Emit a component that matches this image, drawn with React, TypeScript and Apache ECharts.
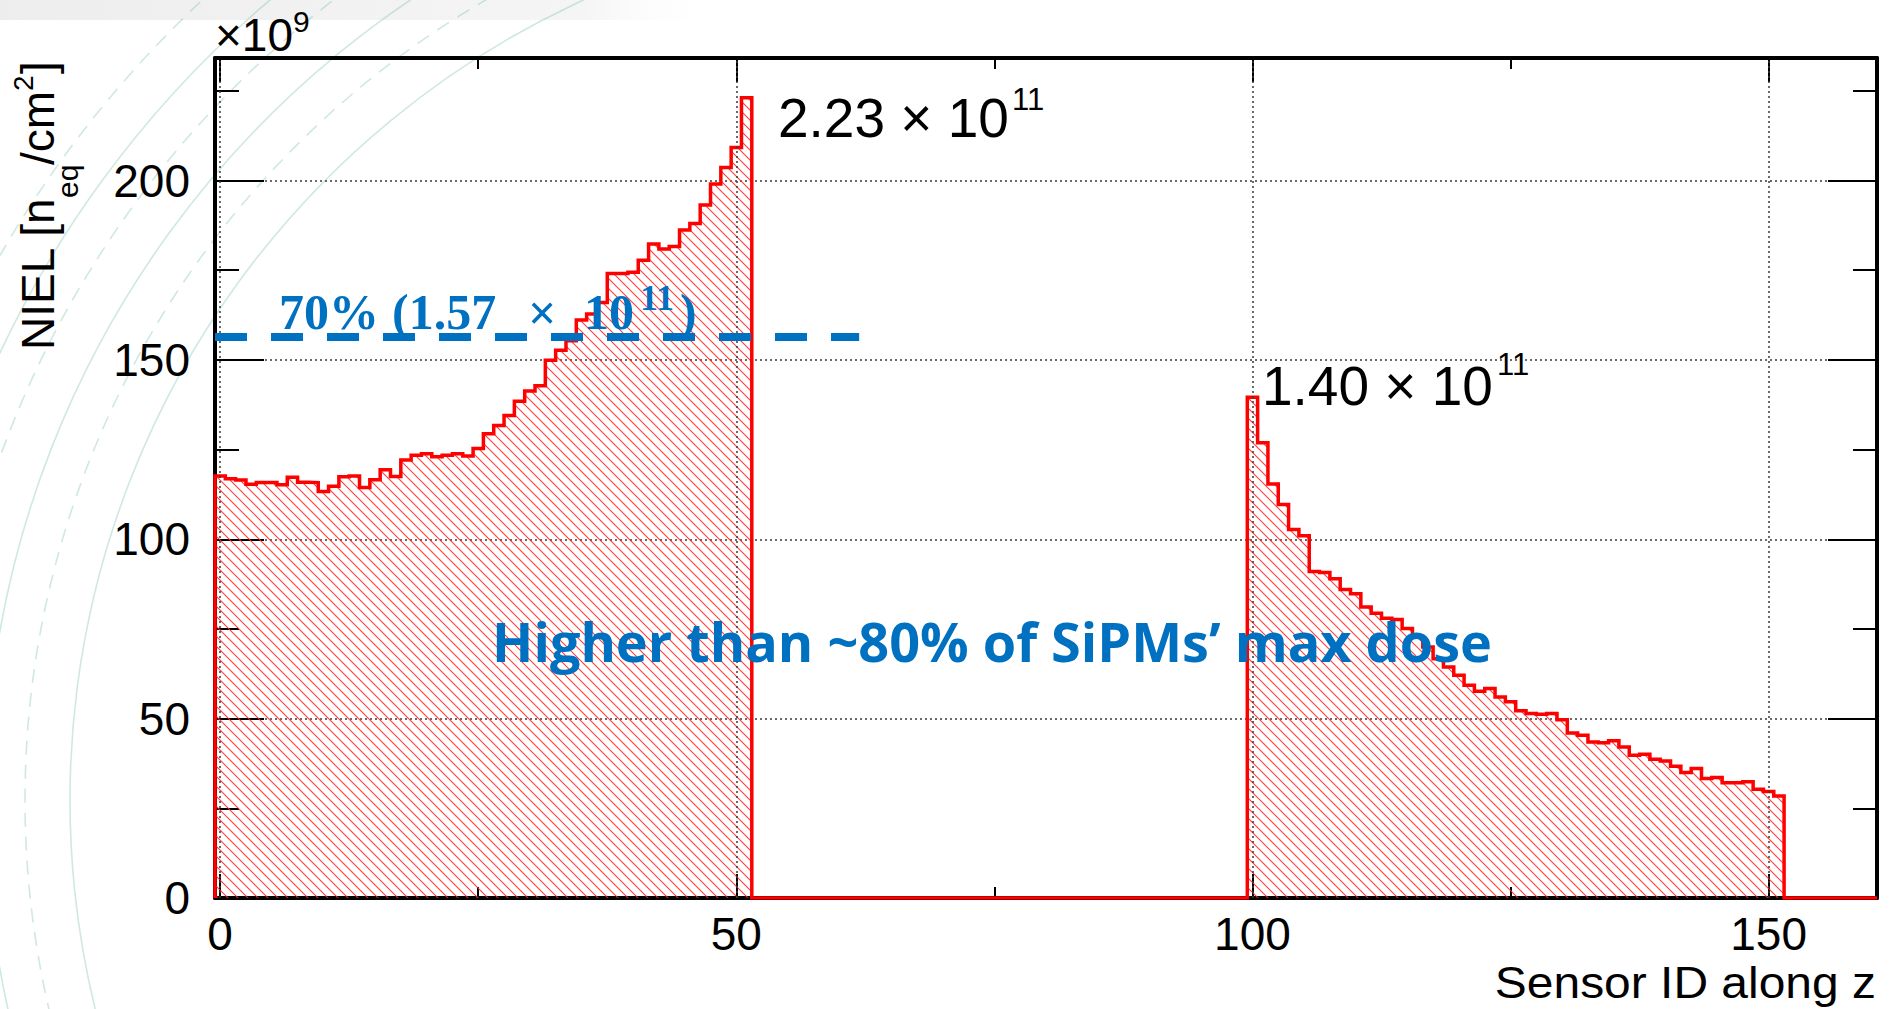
import React, { useEffect, useRef } from "react";
import * as echarts from "echarts";

// ---------------- data ----------------
// NIEL per sensor, in units of 1e9 n_eq/cm^2 (sensor IDs 0..51)
const NIEL_BAND_1: number[] = [
  117.6, 116.9, 116.5, 115.3, 115.8, 115.8, 115.2, 117.3, 115.9, 115.8,
  113.3, 114.8, 117.4, 117.6, 114.4, 116.6, 119.4, 117.5, 122.1, 123.4,
  123.8, 123.0, 123.4, 123.8, 123.2, 125.3, 129.4, 131.7, 134.5, 138.5,
  141.3, 142.8, 149.9, 152.7, 155.3, 161.1, 162.8, 166.0, 174.1, 174.1,
  174.4, 177.8, 182.3, 180.9, 181.6, 186.2, 188.0, 193.2, 199.0, 203.6,
  209.2, 223.1,
];
const BAND_1_FIRST_ID = 0;
// sensor IDs 100..151
const NIEL_BAND_2: number[] = [
  139.6, 126.9, 115.4, 109.7, 102.7, 101.0, 91.0, 90.7, 89.0, 86.0,
  84.8, 81.1, 79.4, 78.0, 77.6, 75.1, 72.8, 70.0, 66.7, 64.4,
  62.1, 59.3, 57.6, 58.4, 56.0, 54.7, 52.2, 51.4, 51.2, 51.4,
  49.7, 46.0, 45.4, 43.5, 43.3, 43.8, 42.1, 39.8, 40.1, 38.7,
  38.2, 36.7, 35.0, 36.1, 33.3, 33.6, 32.1, 32.1, 32.4, 30.3,
  29.7, 28.4,
];
const BAND_2_FIRST_ID = 100;
const SENSOR_COUNT = 161; // IDs 0..160

const X_MIN = -0.5;
const X_MAX = 160.5;
const Y_MIN = 0;
const Y_MAX = 234.15; // 1.05 x max
const X_MAJOR = [0, 50, 100, 150];
const X_MINOR = [25, 75, 125];
const Y_MAJOR = [0, 50, 100, 150, 200];
const Y_MINOR = [25, 75, 125, 175, 225];

const THRESHOLD = 156.5; // 70% line (1.57e11)
const THRESHOLD_END = 61.9;

const PEAK_1_LABEL = "2.23 × 10";
const PEAK_2_LABEL = "1.40 × 10";
const EXP_LABEL = "11";

// --------------------------------------

function sensorValues(): number[] {
  const v = new Array(SENSOR_COUNT).fill(0);
  NIEL_BAND_1.forEach((val, k) => (v[BAND_1_FIRST_ID + k] = val));
  NIEL_BAND_2.forEach((val, k) => (v[BAND_2_FIRST_ID + k] = val));
  return v;
}

function histogramOutline(): [number, number][] {
  const v = sensorValues();
  const pts: [number, number][] = [[X_MIN, 0]];
  for (let i = 0; i < v.length; i++) {
    pts.push([i - 0.5, v[i]], [i + 0.5, v[i]]);
  }
  pts.push([X_MAX, 0]);
  return pts;
}

function makeHatch(): HTMLCanvasElement {
  const s = 10;
  const c = document.createElement("canvas");
  c.width = s;
  c.height = s;
  const ctx = c.getContext("2d")!;
  ctx.strokeStyle = "rgba(255,40,40,0.9)";
  ctx.lineWidth = 1.1;
  ctx.beginPath();
  ctx.moveTo(-1, -1);
  ctx.lineTo(s + 1, s + 1);
  ctx.moveTo(-1, s - 1);
  ctx.lineTo(1, s + 1);
  ctx.moveTo(s - 1, -1);
  ctx.lineTo(s + 1, 1);
  ctx.stroke();
  return c;
}

const SANS = '"Liberation Sans", Arial, Helvetica, sans-serif';
const SERIF = '"Liberation Serif", "Times New Roman", serif';
const BLUE = "#0070C0";

function txt(
  text: string,
  x: number,
  y: number,
  font: string,
  fill: string,
  align: string = "left",
  scaleX: number = 1
): any {
  return {
    type: "text",
    x,
    y,
    scaleX,
    z: 100,
    silent: true,
    style: {
      text,
      font,
      fill,
      textAlign: align,
      align,
      textVerticalAlign: "middle",
      verticalAlign: "middle",
    },
  };
}

function xAxisDef(position: "bottom" | "top", major: boolean, withLine: boolean, withLabels: boolean): any {
  const ticks = major ? X_MAJOR : X_MINOR;
  return {
    type: "value",
    gridIndex: 0,
    position,
    min: X_MIN,
    max: X_MAX,
    axisLine: { show: withLine, onZero: false, lineStyle: { color: "#000", width: 4 } },
    axisTick: {
      show: true,
      inside: true,
      length: major ? 24 : 11,
      customValues: ticks,
      lineStyle: { color: "#000", width: 2 },
    },
    axisLabel: withLabels
      ? {
          show: true,
          customValues: X_MAJOR,
          fontSize: 46,
          fontFamily: SANS,
          color: "#000",
          margin: 13,
        }
      : { show: false },
    splitLine: { show: false },
  };
}

function yAxisDef(position: "left" | "right", major: boolean, withLine: boolean, withLabels: boolean, withSplit: boolean): any {
  const ticks = major ? Y_MAJOR : Y_MINOR;
  return {
    type: "value",
    gridIndex: 0,
    position,
    min: Y_MIN,
    max: Y_MAX,
    interval: 50,
    axisLine: { show: withLine, onZero: false, lineStyle: { color: "#000", width: 4 } },
    axisTick: {
      show: true,
      inside: true,
      length: major ? 49 : 24,
      customValues: ticks,
      lineStyle: { color: "#000", width: 2 },
    },
    axisLabel: withLabels
      ? {
          show: true,
          customValues: Y_MAJOR,
          fontSize: 46,
          fontFamily: SANS,
          color: "#000",
          margin: 25,
        }
      : { show: false },
    splitLine: withSplit
      ? { show: true, lineStyle: { type: [2, 3], color: "#3a3a3a", width: 1.5 } }
      : { show: false },
  };
}

export default function App() {
  const ref = useRef<HTMLDivElement>(null);

  useEffect(() => {
    if (!ref.current) return;
    const chart = echarts.init(ref.current, undefined, { renderer: "svg" });

    const arcRadii = [880, 925, 965, 1010, 1050, 1095];
    const arcs = arcRadii.map((r, k) => ({
      type: "arc",
      z: -10,
      silent: true,
      shape: { cx: 950, cy: 800, r, startAngle: Math.PI * 0.9, endAngle: Math.PI * 1.5, clockwise: true },
      style: {
        stroke: "rgba(110,185,165,0.32)",
        lineWidth: 1.6,
        fill: "none",
        lineDash: k % 2 === 1 ? [14, 10] : null,
      },
    }));

    const serif = `bold 50px ${SERIF}`;

    const option: any = {
      animation: false,
      backgroundColor: "#ffffff",
      grid: {
        left: 215,
        right: 13,
        top: 58,
        bottom: 111,
        containLabel: false,
        outerBoundsMode: "none",
      },
      xAxis: [
        xAxisDef("bottom", true, true, true),
        xAxisDef("bottom", false, false, false),
        xAxisDef("top", true, true, false),
        xAxisDef("top", false, false, false),
      ],
      yAxis: [
        yAxisDef("left", true, true, true, true),
        yAxisDef("left", false, false, false, false),
        yAxisDef("right", true, true, false, false),
        yAxisDef("right", false, false, false, false),
      ],
      series: [
        {
          name: "grid-x",
          type: "line",
          xAxisIndex: 0,
          yAxisIndex: 0,
          data: [],
          z: 1,
          silent: true,
          markLine: {
            silent: true,
            symbol: ["none", "none"],
            label: { show: false },
            lineStyle: { type: [2, 3], color: "#3a3a3a", width: 1.5 },
            data: X_MAJOR.map((v) => ({ xAxis: v })),
          },
        },
        {
          name: "NIEL",
          type: "line",
          xAxisIndex: 0,
          yAxisIndex: 0,
          data: histogramOutline(),
          showSymbol: false,
          symbol: "none",
          z: 3,
          lineStyle: { color: "#ff0000", width: 3.5, join: "miter" },
          areaStyle: {
            color: { image: makeHatch(), repeat: "repeat" },
            opacity: 1,
          },
        },
        {
          name: "threshold",
          type: "line",
          xAxisIndex: 0,
          yAxisIndex: 0,
          data: [],
          z: 5,
          silent: true,
          markLine: {
            silent: true,
            symbol: ["none", "none"],
            label: { show: false },
            lineStyle: { type: [32, 24], color: BLUE, width: 8, cap: "butt" },
            data: [[{ coord: [X_MIN, THRESHOLD] }, { coord: [THRESHOLD_END, THRESHOLD] }]],
          },
        },
      ],
      graphic: [
        // slide-like background decorations
        {
          type: "rect",
          z: -11,
          silent: true,
          shape: { x: 0, y: 0, width: 730, height: 20 },
          style: {
            fill: new echarts.graphic.LinearGradient(0, 0, 1, 0, [
              { offset: 0, color: "rgba(225,225,225,0.6)" },
              { offset: 0.8, color: "rgba(235,235,235,0.5)" },
              { offset: 1, color: "rgba(255,255,255,0)" },
            ]),
          },
        },
        ...arcs,
        // axis multiplier
        txt("×10", 215, 35, `46px ${SANS}`, "#000"),
        txt("9", 293, 21, `30px ${SANS}`, "#000"),
        // x axis title
        txt("Sensor ID along z", 1876, 983, `44px ${SANS}`, "#000", "right", 1.09),
        // y axis title (rotated)
        {
          type: "group",
          x: 38.4,
          y: 350,
          rotation: Math.PI / 2,
          z: 100,
          children: [
            txt("NIEL [n", 0, 0, `46px ${SANS}`, "#000"),
            txt("eq", 152, 29.5, `30px ${SANS}`, "#000"),
            txt("/cm", 185, 0, `46px ${SANS}`, "#000"),
            txt("2", 259, -15.4, `28px ${SANS}`, "#000"),
            txt("]", 276, 0, `46px ${SANS}`, "#000"),
          ],
        },
        // peak annotations
        txt(PEAK_1_LABEL, 778, 117.5, `55px ${SANS}`, "#000"),
        txt(EXP_LABEL, 1012, 99, `31px ${SANS}`, "#000"),
        txt(PEAK_2_LABEL, 1262, 386, `55px ${SANS}`, "#000"),
        txt(EXP_LABEL, 1497, 364.5, `31px ${SANS}`, "#000"),
        // 70% threshold label
        txt("70%", 279, 312, serif, BLUE),
        txt("(1.57", 392, 312, serif, BLUE),
        txt("×", 528, 313, serif, BLUE),
        txt("10", 584, 312, serif, BLUE),
        txt("11", 640, 297.5, `bold 36px ${SERIF}`, BLUE),
        txt(")", 680, 312, serif, BLUE),
        // statement
        txt("Higher than ~80% of SiPMs’ max dose", 992, 641, `bold 54px "Open Sans", sans-serif`, BLUE, "center"),
      ],
    };

    chart.setOption(option);
    return () => chart.dispose();
  }, []);

  return (
    <div
      ref={ref}
      style={{ position: "fixed", left: 0, top: 0, width: 1890, height: 1009, background: "#fff" }}
    />
  );
}
